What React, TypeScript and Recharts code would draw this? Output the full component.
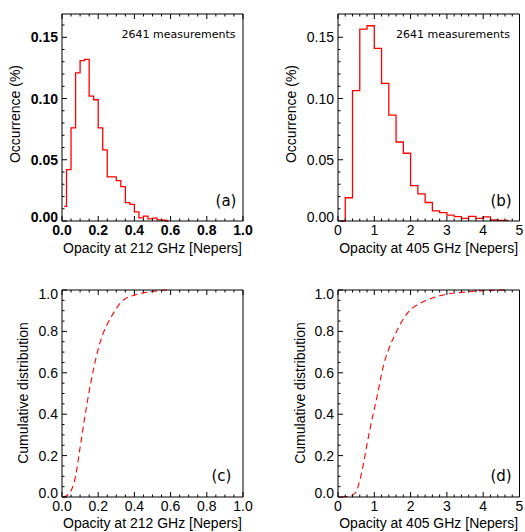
import React from 'react'
import { LineChart, Line, XAxis, YAxis } from 'recharts'

// histogram (a): bin centres, 0.025 wide, 212 GHz
const centersA = [0.0125, 0.0375, 0.0625, 0.0875, 0.1125, 0.1375, 0.1625, 0.1875, 0.2125, 0.2375, 0.2625, 0.2875,
  0.3125, 0.3375, 0.3625, 0.3875, 0.4125, 0.4375, 0.4625, 0.4875, 0.5125, 0.5375, 0.5625, 0.5875]
const occurA = [0.012, 0.042, 0.076, 0.121, 0.131, 0.132, 0.102, 0.099, 0.076, 0.058, 0.036, 0.036,
  0.033, 0.028, 0.015, 0.0136, 0.0074, 0.0025, 0.004, 0.0018, 0.0024, 0.0009, 0.0006, 0.0]

// histogram (b): bin centres, 0.2 wide, 405 GHz
const centersB = [0.1, 0.3, 0.5, 0.7, 0.9, 1.1, 1.3, 1.5, 1.7, 1.9, 2.1, 2.3, 2.5, 2.7, 2.9, 3.1, 3.3, 3.5, 3.7,
  3.9, 4.1, 4.3, 4.5, 4.7]
const occurB = [0.0, 0.019, 0.1064, 0.1567, 0.1594, 0.141, 0.1124, 0.0865, 0.0645, 0.0553, 0.0288, 0.0222,
  0.0151, 0.0083, 0.0068, 0.0048, 0.0035, 0.0022, 0.0038, 0.0022, 0.0033, 0.0008, 0.0005, 0.0005]

// cumulative (c)
const cumXC = [0.005, 0.025, 0.05, 0.075, 0.1, 0.125, 0.15, 0.175, 0.2, 0.225, 0.25, 0.275, 0.3, 0.325, 0.35, 0.4,
  0.45, 0.5, 0.55, 0.58]
const cumYC = [0.0, 0.006, 0.03, 0.1, 0.24, 0.38, 0.51, 0.62, 0.715, 0.785, 0.835, 0.875, 0.91, 0.94, 0.958, 0.975,
  0.986, 0.993, 0.998, 1.0]

// cumulative (d)
const cumXD = [0.1, 0.3, 0.45, 0.5, 0.6, 0.7, 0.8, 0.9, 1.0, 1.1, 1.2, 1.3, 1.4, 1.6, 1.8, 2.0, 2.2, 2.5, 3.0, 3.5,
  4.0, 4.7]
const cumYD = [0.0, 0.004, 0.015, 0.025, 0.08, 0.16, 0.255, 0.345, 0.425, 0.505, 0.595, 0.665, 0.715, 0.795, 0.86,
  0.905, 0.93, 0.955, 0.98, 0.99, 0.997, 1.0]

const occMajors = [0, 0.05, 0.1, 0.15]
const cumMajors = [0, 0.2, 0.4, 0.6, 0.8, 1.0]
const tauAMajors = [0, 0.2, 0.4, 0.6, 0.8, 1.0]
const tauBMajors = [0, 1, 2, 3, 4, 5]

const range = (a: number, b: number, step: number) => {
  const out: number[] = []
  for (let i = 0; a + i * step <= b + 1e-9; i++) out.push(+(a + i * step).toFixed(4))
  return out
}

const FONT = '"Liberation Sans", Arial, Helvetica, sans-serif'
const RED = '#ff0000'

const AxisTick = (props: any) => {
  const { x, y, payload, side, majors, digits, bold, dmin, dmax } = props
  const v = payload.value
  const major = majors.some((m: number) => Math.abs(m - v) < 1e-6)
  const L = major ? 5 : 2.5
  let line
  if (side === 'bottom') line = <line x1={x} y1={y} x2={x} y2={y - L} stroke="#000" />
  else if (side === 'top') line = <line x1={x} y1={y} x2={x} y2={y + L} stroke="#000" />
  else if (side === 'left') line = <line x1={x} y1={y} x2={x + L} y2={y} stroke="#000" />
  else line = <line x1={x} y1={y} x2={x - L} y2={y} stroke="#000" />
  let label = null
  if (major && side === 'bottom') {
    label = (
      <text x={x} y={y + 14} textAnchor="middle" fontSize={14} fontFamily={FONT} fontWeight={bold ? 'bold' : 'normal'} fill="#000">
        {v.toFixed(digits)}
      </text>
    )
  }
  if (major && side === 'left') {
    let dy = 5
    if (Math.abs(v - dmin) < 1e-6) dy = 1
    if (Math.abs(v - dmax) < 1e-6) dy = 9
    label = (
      <text x={x - 4} y={y + dy} textAnchor="end" fontSize={14} fontFamily={FONT} fontWeight={bold ? 'bold' : 'normal'} fill="#000">
        {v.toFixed(digits)}
      </text>
    )
  }
  return (
    <g>
      {line}
      {label}
    </g>
  )
}

type PanelProps = {
  data: { x: number; y: number }[]
  xDomain: [number, number]
  yDomain: [number, number]
  xTicks: number[]
  yTicks: number[]
  xMajors: number[]
  yMajors: number[]
  xDigits: number
  yDigits: number
  box: { left: number; right: number; top: number; bottom: number }
  step?: boolean
  bold?: boolean
}

// box is the plot frame in page pixels; each axis takes 1px so margins step back by 1
function Panel({ data, xDomain, yDomain, xTicks, yTicks, xMajors, yMajors, xDigits, yDigits, box, step, bold }: PanelProps) {
  const axisLine = { stroke: '#000', strokeWidth: 1 }
  const margin = { top: box.top - 1, left: box.left - 1, right: 525 - box.right - 1, bottom: 532 - box.bottom - 1 }
  return (
    <div style={{ position: 'absolute', left: 0, top: 0 }}>
      <LineChart width={525} height={532} data={data} margin={margin}>
        <XAxis xAxisId="b" type="number" dataKey="x" domain={xDomain} ticks={xTicks} interval={0} height={1}
          tickSize={0} tickMargin={0} axisLine={axisLine}
          tick={<AxisTick side="bottom" majors={xMajors} digits={xDigits} bold={bold} />} />
        <XAxis xAxisId="t" orientation="top" type="number" dataKey="x" domain={xDomain} ticks={xTicks} interval={0}
          height={1} tickSize={0} tickMargin={0} axisLine={axisLine}
          tick={<AxisTick side="top" majors={xMajors} />} />
        <YAxis yAxisId="l" type="number" domain={yDomain} ticks={yTicks} interval={0} width={1} tickSize={0}
          tickMargin={0} axisLine={axisLine}
          tick={<AxisTick side="left" majors={yMajors} digits={yDigits} bold={bold} dmin={yDomain[0]} dmax={yDomain[1]} />} />
        <YAxis yAxisId="r" orientation="right" type="number" domain={yDomain} ticks={yTicks} interval={0} width={1}
          tickSize={0} tickMargin={0} axisLine={axisLine}
          tick={<AxisTick side="right" majors={yMajors} />} />
        <Line xAxisId="b" yAxisId="l" dataKey="y" type={step ? 'step' : 'monotone'} stroke={RED}
          strokeWidth={step ? 1.3 : 1.1} strokeDasharray={step ? undefined : '6 4'} dot={false}
          activeDot={false} isAnimationActive={false} />
      </LineChart>
    </div>
  )
}

const zip = (xs: number[], ys: number[]) => xs.map((x, i) => ({ x, y: ys[i] }))

export default function App() {
  const occTicks = range(0, 0.16, 0.01)
  const cumTicks = range(0, 1, 0.05)
  const tauATicks = range(0, 1, 0.05)
  const tauBTicks = range(0, 5, 0.2)
  const textStyle = { fontFamily: FONT, fontSize: 14, fill: '#000' }
  const noteStyle = { fontFamily: '"DejaVu Sans", sans-serif', fontSize: 11, fill: '#000' }
  const tagStyle = { fontFamily: '"DejaVu Sans", sans-serif', fontSize: 15, fill: '#000' }
  return (
    <div style={{ position: 'absolute', left: 0, top: 0, width: 525, height: 532, background: '#fff' }}>
      <Panel data={zip(centersA, occurA)} xDomain={[0, 1]} yDomain={[0, 0.169]} xTicks={tauATicks} yTicks={occTicks}
        xMajors={tauAMajors} yMajors={occMajors} xDigits={1} yDigits={2} step bold
        box={{ left: 62, right: 243, top: 14, bottom: 221 }} />
      <Panel data={zip(centersB, occurB)} xDomain={[0, 5]} yDomain={[0, 0.169]} xTicks={tauBTicks} yTicks={occTicks}
        xMajors={tauBMajors} yMajors={occMajors} xDigits={0} yDigits={2} step
        box={{ left: 338, right: 519.5, top: 14, bottom: 221 }} />
      <Panel data={zip(cumXC, cumYC)} xDomain={[0, 1]} yDomain={[0, 1]} xTicks={tauATicks} yTicks={cumTicks}
        xMajors={tauAMajors} yMajors={cumMajors} xDigits={1} yDigits={1}
        box={{ left: 62, right: 243, top: 290, bottom: 497 }} />
      <Panel data={zip(cumXD, cumYD)} xDomain={[0, 5]} yDomain={[0, 1]} xTicks={tauBTicks} yTicks={cumTicks}
        xMajors={tauBMajors} yMajors={cumMajors} xDigits={0} yDigits={1}
        box={{ left: 338, right: 519.5, top: 290, bottom: 497 }} />
      <svg width={525} height={532} style={{ position: 'absolute', left: 0, top: 0, pointerEvents: 'none' }}>
        <text x={178.5} y={38} textAnchor="middle" style={noteStyle}>2641 measurements</text>
        <text x={453} y={38} textAnchor="middle" style={noteStyle}>2641 measurements</text>
        <text x={226} y={206} textAnchor="middle" style={tagStyle}>(a)</text>
        <text x={501} y={206} textAnchor="middle" style={tagStyle}>(b)</text>
        <text x={221.5} y={481} textAnchor="middle" style={tagStyle}>(c)</text>
        <text x={501} y={481} textAnchor="middle" style={tagStyle}>(d)</text>
        <text x={152.5} y={253} textAnchor="middle" style={textStyle}>Opacity at 212 GHz [Nepers]</text>
        <text x={428.7} y={253} textAnchor="middle" style={textStyle}>Opacity at 405 GHz [Nepers]</text>
        <text x={152.5} y={528} textAnchor="middle" style={textStyle}>Opacity at 212 GHz [Nepers]</text>
        <text x={428.7} y={528} textAnchor="middle" style={textStyle}>Opacity at 405 GHz [Nepers]</text>
        <text x={20} y={114} textAnchor="middle" transform="rotate(-90 20 114)" style={textStyle}>Occurrence (%)</text>
        <text x={296} y={114} textAnchor="middle" transform="rotate(-90 296 114)" style={textStyle}>Occurrence (%)</text>
        <text x={28} y={393} textAnchor="middle" transform="rotate(-90 28 393)" style={textStyle}>Cumulative distribution</text>
        <text x={305} y={393} textAnchor="middle" transform="rotate(-90 305 393)" style={textStyle}>Cumulative distribution</text>
      </svg>
    </div>
  )
}
